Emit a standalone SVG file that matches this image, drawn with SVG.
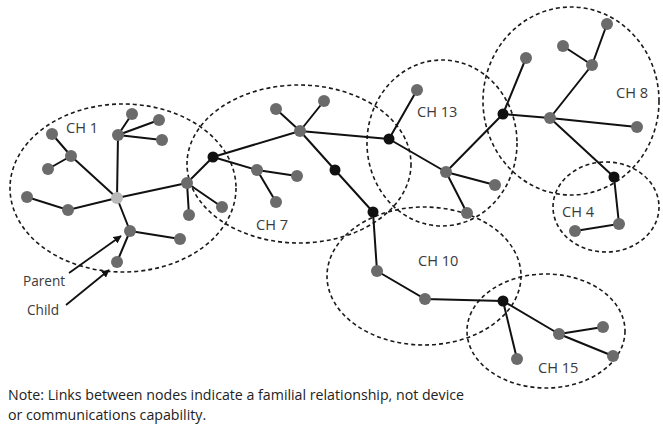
<svg xmlns="http://www.w3.org/2000/svg" width="663" height="425" viewBox="0 0 663 425">
  <style>
    .cluster { fill: none; stroke: #1a1a1a; stroke-width: 1.6; stroke-dasharray: 4 3; }
    .link { stroke: #111; stroke-width: 2; fill: none; stroke-linecap: round; }
    .n { fill: #6b6b6b; }
    .h { fill: #111; }
    .r { fill: #b9b9b9; }
    .label { font-family: "Open Sans", "Liberation Sans", sans-serif; font-size: 14.6px; fill: #3a3a3a; }
    .legend-text { font-family: "Open Sans", "Liberation Sans", sans-serif; font-size: 13.6px; fill: #3a3a3a; }
    .note { font-family: "Open Sans", "Liberation Sans", sans-serif; font-size: 14.2px; fill: #222; }
    .ptr { stroke: #111; stroke-width: 1.8; fill: none; }
  </style>
  <defs>
    <marker id="arrow" viewBox="0 0 10 10" refX="9" refY="5" markerWidth="8" markerHeight="8" orient="auto" markerUnits="userSpaceOnUse">
      <path d="M0,0 L10,5 L0,10 z" fill="#111"/>
    </marker>
  </defs>
  <rect width="663" height="425" fill="#fff"/>

  <!-- cluster boundaries -->
  <g id="clusters">
    <ellipse id="ch1" class="cluster" cx="123" cy="188" rx="113" ry="84"/>
    <ellipse id="ch7" class="cluster" cx="299" cy="164" rx="112" ry="79"/>
    <ellipse id="ch13" class="cluster" cx="442" cy="143" rx="75" ry="83"/>
    <ellipse id="ch8" class="cluster" cx="571" cy="101" rx="88" ry="94"/>
    <ellipse id="ch4" class="cluster" cx="606" cy="207" rx="53" ry="45"/>
    <ellipse id="ch10" class="cluster" cx="424" cy="276" rx="97" ry="69"/>
    <ellipse id="ch15" class="cluster" cx="546" cy="331" rx="79" ry="57"/>
  </g>

  <!-- parent/child links -->
  <g id="links" class="link">
    <path d="M117,198 L118,135 M118,135 L132,114 M118,135 L159,120 M118,135 L162,140"/>
    <path d="M117,198 L71,156 M71,156 L52,134 M71,156 L48,169"/>
    <path d="M117,198 L68,210 L27,197"/>
    <path d="M117,198 L187,183 M187,183 L222,207 M187,183 L189,215 M187,183 L213,157"/>
    <path d="M117,198 L130,231 M130,231 L180,239 M130,231 L117,262"/>
    <path d="M213,157 L300,131 M213,157 L257,170 M257,170 L297,176 M257,170 L276,202"/>
    <path d="M300,131 L276,109 M300,131 L324,101 M300,131 L389,139 M300,131 L335,170 L373,212"/>
    <path d="M373,212 L377,271 L425,299 L503,301"/>
    <path d="M503,301 L517,359 M503,301 L559,334 M559,334 L603,327 M559,334 L613,356"/>
    <path d="M389,139 L417,90 M389,139 L446,172 M446,172 L495,185 M446,172 L467,213 M446,172 L503,114"/>
    <path d="M503,114 L526,58 M503,114 L550,118 M550,118 L637,127 M550,118 L592,65 M550,118 L614,177"/>
    <path d="M592,65 L563,46 M592,65 L607,24"/>
    <path d="M614,177 L619,224 L575,231"/>
  </g>

  <!-- nodes -->
  <g id="nodes-ch1">
    <circle class="r" cx="117" cy="198" r="6"/>
    <circle class="n" cx="118" cy="135" r="6"/>
    <circle class="n" cx="132" cy="114" r="6"/>
    <circle class="n" cx="159" cy="120" r="6"/>
    <circle class="n" cx="162" cy="140" r="6"/>
    <circle class="n" cx="71" cy="156" r="6"/>
    <circle class="n" cx="52" cy="134" r="6"/>
    <circle class="n" cx="48" cy="169" r="6"/>
    <circle class="n" cx="68" cy="210" r="6"/>
    <circle class="n" cx="27" cy="197" r="6"/>
    <circle class="n" cx="187" cy="183" r="6"/>
    <circle class="n" cx="222" cy="207" r="6"/>
    <circle class="n" cx="189" cy="215" r="6"/>
    <circle class="n" cx="130" cy="231" r="6"/>
    <circle class="n" cx="180" cy="239" r="6"/>
    <circle class="n" cx="117" cy="262" r="6"/>
  </g>
  <g id="nodes-ch7">
    <circle class="h" cx="213" cy="157" r="5.5"/>
    <circle class="n" cx="300" cy="131" r="6"/>
    <circle class="n" cx="276" cy="109" r="6"/>
    <circle class="n" cx="324" cy="101" r="6"/>
    <circle class="n" cx="257" cy="170" r="6"/>
    <circle class="n" cx="297" cy="176" r="6"/>
    <circle class="n" cx="276" cy="202" r="6"/>
    <circle class="h" cx="335" cy="170" r="5.5"/>
  </g>
  <g id="nodes-ch13">
    <circle class="h" cx="389" cy="139" r="5.5"/>
    <circle class="n" cx="417" cy="90" r="6"/>
    <circle class="n" cx="446" cy="172" r="6"/>
    <circle class="n" cx="495" cy="185" r="6"/>
    <circle class="n" cx="467" cy="213" r="6"/>
  </g>
  <g id="nodes-ch8">
    <circle class="h" cx="503" cy="114" r="5.5"/>
    <circle class="n" cx="526" cy="58" r="6"/>
    <circle class="n" cx="550" cy="118" r="6"/>
    <circle class="n" cx="637" cy="127" r="6"/>
    <circle class="n" cx="592" cy="65" r="6"/>
    <circle class="n" cx="563" cy="46" r="6"/>
    <circle class="n" cx="607" cy="24" r="6"/>
  </g>
  <g id="nodes-ch4">
    <circle class="h" cx="614" cy="177" r="5.5"/>
    <circle class="n" cx="619" cy="224" r="6"/>
    <circle class="n" cx="575" cy="231" r="6"/>
  </g>
  <g id="nodes-ch10">
    <circle class="h" cx="373" cy="212" r="5.5"/>
    <circle class="n" cx="377" cy="271" r="6"/>
    <circle class="n" cx="425" cy="299" r="6"/>
  </g>
  <g id="nodes-ch15">
    <circle class="h" cx="503" cy="301" r="5.5"/>
    <circle class="n" cx="517" cy="359" r="6"/>
    <circle class="n" cx="559" cy="334" r="6"/>
    <circle class="n" cx="603" cy="327" r="6"/>
    <circle class="n" cx="613" cy="356" r="6"/>
  </g>

  <!-- cluster names -->
  <g id="cluster-labels" class="label">
    <text x="66" y="133">CH 1</text>
    <text x="256" y="230">CH 7</text>
    <text x="417" y="117">CH 13</text>
    <text x="616" y="98">CH 8</text>
    <text x="562" y="217">CH 4</text>
    <text x="418" y="266">CH 10</text>
    <text x="538" y="373">CH 15</text>
  </g>

  <!-- legend pointers -->
  <g id="legend">
    <text class="legend-text" x="23" y="286">Parent</text>
    <text class="legend-text" x="27" y="315">Child</text>
    <line class="ptr" x1="69" y1="273" x2="121" y2="236" marker-end="url(#arrow)"/>
    <line class="ptr" x1="66" y1="305" x2="109" y2="270" marker-end="url(#arrow)"/>
  </g>

  <g id="note" class="note">
    <text x="8" y="400">Note: Links between nodes indicate a familial relationship, not device</text>
    <text x="8" y="420">or communications capability.</text>
  </g>
</svg>
